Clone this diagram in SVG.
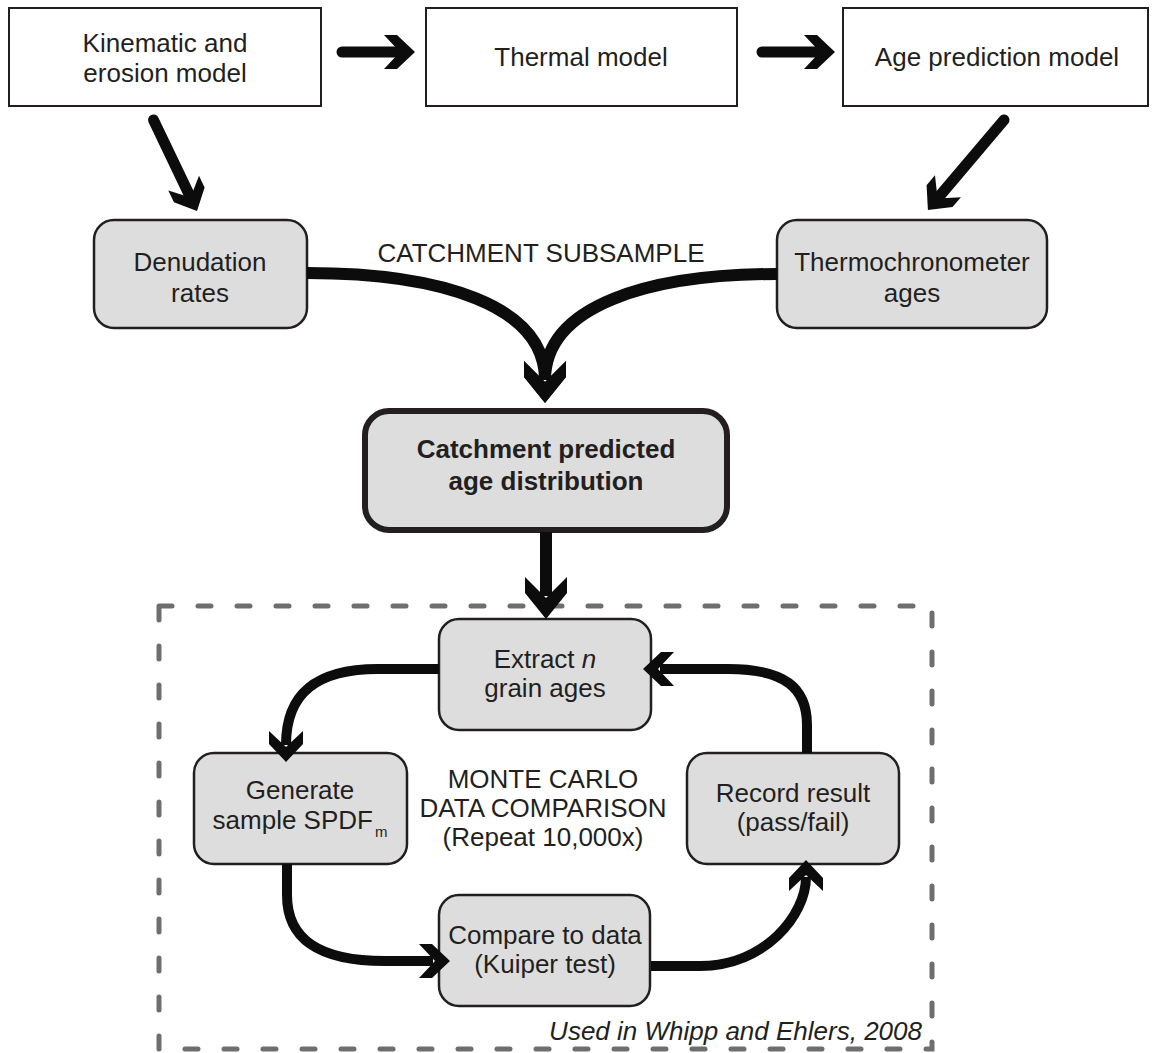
<svg xmlns="http://www.w3.org/2000/svg" width="1152" height="1053" viewBox="0 0 1152 1053">
<defs>
<style>
.t{font-family:"Liberation Sans",Arial,sans-serif;font-size:26px;fill:#231f20;text-anchor:middle}
.b{font-weight:bold}
.box{fill:#fff;stroke:#231f20;stroke-width:2}
.rn{fill:#dddddd;stroke:#231f20;stroke-width:2.5}
.c{fill:none;stroke:#0c0c0c}
.m{stroke-width:11;stroke-linecap:round}
.l{stroke-width:12}
.s{stroke-width:10}
</style>
<marker id="am" markerUnits="userSpaceOnUse" markerWidth="40" markerHeight="40" refX="14" refY="0" orient="auto" overflow="visible">
<path d="M0,-17 L13,-17 L31,0 L13,17 L0,17 L16,0 Z" fill="#0c0c0c"/>
</marker>
<marker id="al" markerUnits="userSpaceOnUse" markerWidth="50" markerHeight="50" refX="19" refY="0" orient="auto" overflow="visible">
<path d="M0,-21 L16,-21 L42,0 L16,21 L0,21 L21,0 Z" fill="#0c0c0c"/>
</marker>
</defs>
<rect width="1152" height="1053" fill="#fff"/>

<rect id="mc-frame" x="159" y="606" width="773" height="443" fill="none" stroke="#6e6e6e" stroke-width="5" stroke-dasharray="13 26" stroke-linecap="round"/>

<g id="kinematic">
<rect class="box" x="9" y="8" width="312" height="98"/>
<text class="t" x="165" y="52">Kinematic and</text>
<text class="t" x="165" y="82">erosion model</text>
</g>
<g id="thermal">
<rect class="box" x="426" y="8" width="311" height="98"/>
<text class="t" x="581" y="66">Thermal model</text>
</g>
<g id="ageprediction">
<rect class="box" x="843" y="8" width="305" height="98"/>
<text class="t" x="997" y="66">Age prediction model</text>
</g>
<g id="denudation">
<rect class="rn" x="94" y="220" width="213" height="108" rx="20"/>
<text class="t" x="200" y="271">Denudation</text>
<text class="t" x="200" y="302">rates</text>
</g>
<g id="thermochron">
<rect class="rn" x="777" y="220" width="270" height="108" rx="20"/>
<text class="t" x="912" y="271">Thermochronometer</text>
<text class="t" x="912" y="302">ages</text>
</g>
<text class="t" x="541" y="262">CATCHMENT SUBSAMPLE</text>
<g id="catchment">
<rect x="365" y="411" width="362" height="119" rx="24" fill="#dddddd" stroke="#231f20" stroke-width="6"/>
<text class="t b" x="546" y="458">Catchment predicted</text>
<text class="t b" x="546" y="490">age distribution</text>
</g>
<g id="extract">
<rect class="rn" x="439" y="619" width="212" height="111" rx="20"/>
<text class="t" x="545" y="668">Extract <tspan font-style="italic">n</tspan></text>
<text class="t" x="545" y="697">grain ages</text>
</g>
<g id="generate">
<rect class="rn" x="194" y="753" width="213" height="111" rx="20"/>
<text class="t" x="300" y="799">Generate</text>
<text class="t" x="300" y="829">sample SPDF<tspan font-size="15" dx="2" dy="8">m</tspan></text>
</g>
<g id="record">
<rect class="rn" x="687" y="753" width="212" height="111" rx="20"/>
<text class="t" x="793" y="802">Record result</text>
<text class="t" x="793" y="831">(pass/fail)</text>
</g>
<g id="compare">
<rect class="rn" x="439" y="895" width="211" height="111" rx="20"/>
<text class="t" x="545" y="944">Compare to data</text>
<text class="t" x="545" y="973">(Kuiper test)</text>
</g>
<g id="montecarlo-label">
<text class="t" x="543" y="788">MONTE CARLO</text>
<text class="t" x="543" y="817">DATA COMPARISON</text>
<text class="t" x="543" y="846">(Repeat 10,000x)</text>
</g>
<text class="t" x="922" y="1040" style="text-anchor:end;font-style:italic">Used in Whipp and Ehlers, 2008</text>

<g id="connectors">
<path class="c m" d="M342,52 L398,52" marker-end="url(#am)"/>
<path class="c m" d="M762,52 L818,52" marker-end="url(#am)"/>
<path class="c m" d="M153.5,120 L189.7,195.7" marker-end="url(#am)"/>
<path class="c m" d="M1004,120 L938.9,196.9" marker-end="url(#am)"/>
<path class="c l" d="M307,273 C440,273 545,305 545,380" marker-end="url(#al)"/>
<path class="c l" d="M777,274 C650,274 545,305 545,380" marker-end="url(#al)"/>
<path class="c l" d="M546,532 L546,596" marker-end="url(#al)"/>
<path class="c s" d="M439,669 L378,669 C318,669 286,692 286,745" marker-end="url(#am)"/>
<path class="c s" d="M807,753 L807,725 C807,688 785,669 728,669 L660,669" marker-end="url(#am)"/>
<path class="c s" d="M287,864 L287,895 C287,940 320,961 385,961 L433,961" marker-end="url(#am)"/>
<path class="c s" d="M651,966 L700,966 C765,966 806,915 806,877" marker-end="url(#am)"/>
</g>
</svg>
